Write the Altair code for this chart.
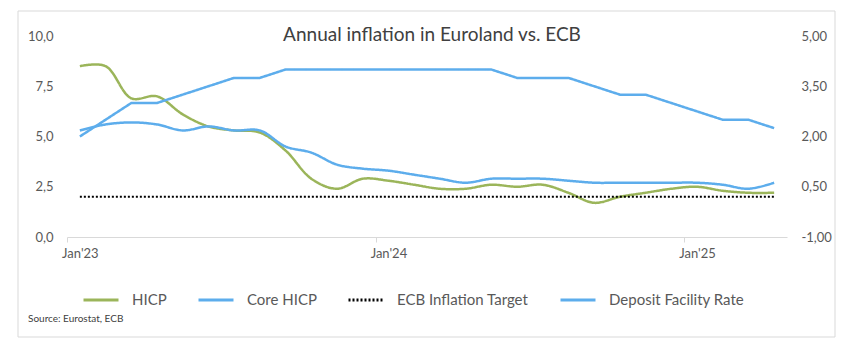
import json
import altair as alt
import pandas as pd

FONT = "Lato"

TITLE = "Annual inflation in Euroland vs. ECB"
SOURCE = "Source: Eurostat, ECB"

months = [
    "2023-01", "2023-02", "2023-03", "2023-04", "2023-05", "2023-06",
    "2023-07", "2023-08", "2023-09", "2023-10", "2023-11", "2023-12",
    "2024-01", "2024-02", "2024-03", "2024-04", "2024-05", "2024-06",
    "2024-07", "2024-08", "2024-09", "2024-10", "2024-11", "2024-12",
    "2025-01", "2025-02", "2025-03", "2025-04",
]
hicp = [8.5, 8.5, 6.9, 7.0, 6.1, 5.5, 5.3, 5.2, 4.3, 2.9, 2.4, 2.9,
        2.8, 2.6, 2.4, 2.4, 2.6, 2.5, 2.6, 2.2, 1.7, 2.0, 2.2, 2.4,
        2.5, 2.3, 2.2, 2.2]
core_hicp = [5.3, 5.6, 5.7, 5.6, 5.3, 5.5, 5.3, 5.3, 4.5, 4.2, 3.6, 3.4,
             3.3, 3.1, 2.9, 2.7, 2.9, 2.9, 2.9, 2.8, 2.7, 2.7, 2.7, 2.7,
             2.7, 2.6, 2.4, 2.7]
deposit_rate = [2.0, 2.5, 3.0, 3.0, 3.25, 3.5, 3.75, 3.75, 4.0, 4.0, 4.0, 4.0,
                4.0, 4.0, 4.0, 4.0, 4.0, 3.75, 3.75, 3.75, 3.5, 3.25, 3.25, 3.0,
                2.75, 2.5, 2.5, 2.25]
ECB_TARGET = 2.0

x_tick_pos = [-0.5, 11.5, 23.5]
x_tick_labels = ["Jan'23", "Jan'24", "Jan'25"]
left_ticks = [0, 2.5, 5, 7.5, 10]
right_ticks = [-1, 0.5, 2, 3.5, 5]

series_names = ["HICP", "Core HICP", "ECB Inflation Target", "Deposit Facility Rate"]
series_colors = ["#9BB55A", "#5DADEC", "#000000", "#5DADEC"]
series_dash = [[1, 0], [1, 0], [2, 2], [1, 0]]

# ---- tables built from the arrays ----
rows = []
for i, m in enumerate(months):
    rows.append({"idx": i, "month": m, "series": "HICP", "value": hicp[i]})
    rows.append({"idx": i, "month": m, "series": "Core HICP", "value": core_hicp[i]})
infl = pd.DataFrame(rows)
dep = pd.DataFrame({
    "idx": list(range(len(months))),
    "month": months,
    "series": ["Deposit Facility Rate"] * len(months),
    "value": deposit_rate,
})
tgt = pd.DataFrame({
    "idx": [0], "idx2": [len(months) - 1],
    "series": ["ECB Inflation Target"], "value": [ECB_TARGET],
})

W, H = 720, 201
GREY = "#595959"

label_expr_x = f"{json.dumps(x_tick_labels)}[indexof({json.dumps(x_tick_pos)}, datum.value)]"

x_enc = alt.X(
    "idx:Q",
    scale=alt.Scale(domain=[-0.5, len(months) - 0.5], nice=False, zero=False),
    axis=alt.Axis(
        values=x_tick_pos, labelExpr=label_expr_x, title=None,
        grid=False, domainColor="#D9D9D9", tickColor="#D9D9D9", tickSize=5,
        labelOffset=W / len(months) / 2, labelFlush=False, labelPadding=5,
        labelFont=FONT, labelFontSize=13, labelColor=GREY, labelOverlap=False,
    ),
)

legend = alt.Legend(
    title=None, orient="none", legendX=15, legendY=245, direction="horizontal",
    columns=4, symbolType="stroke", symbolSize=1225, symbolStrokeWidth=3,
    labelFont=FONT, labelFontSize=15, labelColor=GREY, labelOffset=12,
    columnPadding=25,
)
color_enc = alt.Color("series:N", scale=alt.Scale(domain=series_names, range=series_colors),
                      legend=legend, sort=series_names)
dash_enc = alt.StrokeDash("series:N", scale=alt.Scale(domain=series_names, range=series_dash),
                          legend=legend, sort=series_names)

left_scale = alt.Scale(domain=[0, 10], nice=False, zero=False)
left_axis = alt.Axis(
    values=left_ticks, orient="left", title=None, grid=False, domain=False,
    ticks=False, tickSize=0, labelPadding=14, labelFont=FONT, labelFontSize=13,
    labelColor=GREY,
    labelExpr="replace(format(datum.value, '.1f'), '.', ',')",
)
right_scale = alt.Scale(domain=[-1, 5], nice=False, zero=False)
right_axis = alt.Axis(
    values=right_ticks, orient="right", title=None, grid=False, domain=False,
    ticks=False, tickSize=0, labelPadding=14, labelFont=FONT, labelFontSize=13,
    labelColor=GREY,
    labelExpr="replace(replace(format(datum.value, '.2f'), '.', ','), '\u2212', '-')",
)

smooth = alt.Chart(infl).mark_line(interpolate="catmull-rom", strokeWidth=2.5).encode(
    x=x_enc,
    y=alt.Y("value:Q", scale=left_scale, axis=left_axis),
    color=color_enc,
    strokeDash=dash_enc,
)
target = alt.Chart(tgt).mark_rule(strokeWidth=2).encode(
    x=x_enc,
    x2="idx2:Q",
    y=alt.Y("value:Q", scale=left_scale, axis=left_axis),
    color=color_enc,
    strokeDash=dash_enc,
)
left_layer = alt.layer(smooth, target)

deposit = alt.Chart(dep).mark_line(strokeWidth=2.5).encode(
    x=x_enc,
    y=alt.Y("value:Q", scale=right_scale, axis=right_axis),
    color=color_enc,
    strokeDash=dash_enc,
)

frame = alt.Chart(pd.DataFrame({"k": [0]})).mark_rect(
    fillOpacity=0, stroke="#D9D9D9", strokeWidth=1
).encode(x=alt.value(-49), x2=alt.value(768), y=alt.value(-25), y2=alt.value(301))

title_text = alt.Chart(pd.DataFrame({"t": [TITLE]})).mark_text(
    font=FONT, fontSize=19, color="#404040", align="center", baseline="middle"
).encode(x=alt.value(365), y=alt.value(-1), text="t:N")

source_text = alt.Chart(pd.DataFrame({"t": [SOURCE]})).mark_text(
    font=FONT, fontSize=10, color="#404040", align="left", baseline="middle"
).encode(x=alt.value(-39), y=alt.value(283), text="t:N")

chart = alt.layer(frame, left_layer, deposit, title_text, source_text).resolve_scale(
    y="independent"
).properties(
    width=W, height=H,
    autosize=alt.AutoSizeParams(type="none"),
    padding={"left": 67, "top": 36, "right": 72, "bottom": 115},
    background="white",
).configure_view(strokeWidth=0)

chart.save("out.html", embed_options={"renderer": "svg", "actions": False})
